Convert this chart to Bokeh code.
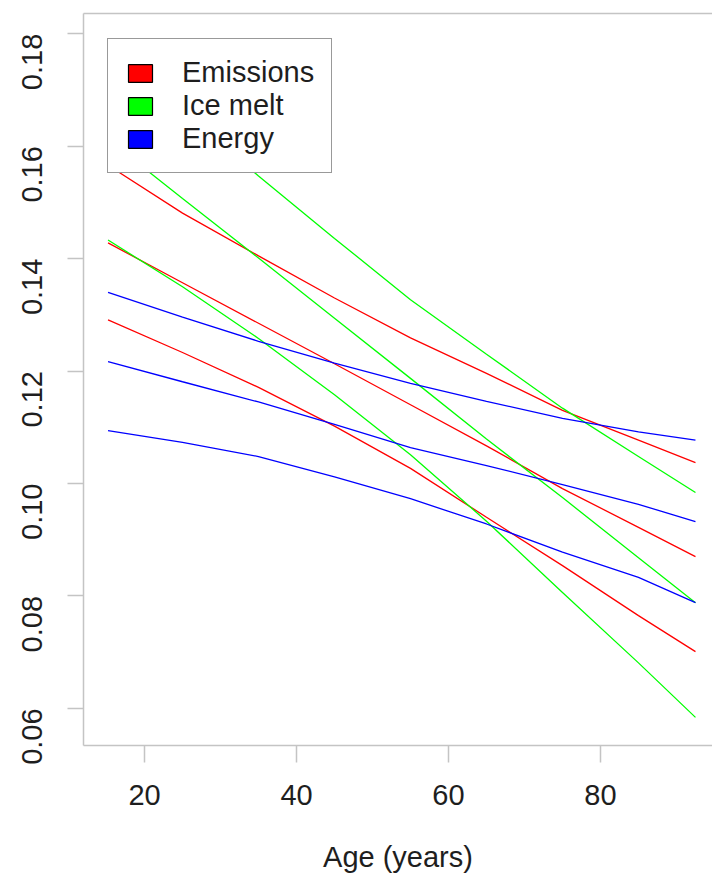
import math
from bokeh.plotting import figure
from bokeh.models import (Range1d, FixedTicker, PrintfTickFormatter, LinearAxis,
                          Legend, LegendItem, ColumnDataSource)
from bokeh.embed import file_html
from bokeh.resources import INLINE

# ---- data ----
ages = [15.2, 25, 35, 45, 55, 65, 75, 85, 92.5]

emissions_1 = [0.1566, 0.1481, 0.1405, 0.1330, 0.1259, 0.1196, 0.1130, 0.1077, 0.1037]
emissions_2 = [0.1428, 0.1357, 0.1285, 0.1213, 0.1140, 0.1067, 0.0991, 0.0922, 0.0870]
emissions_3 = [0.1291, 0.1233, 0.1171, 0.1102, 0.1027, 0.0940, 0.0854, 0.0765, 0.0701]

ice_melt_1 = [0.1782, 0.1665, 0.1547, 0.1436, 0.1327, 0.1230, 0.1134, 0.1048, 0.0984]
ice_melt_2 = [0.1612, 0.1507, 0.1401, 0.1294, 0.1187, 0.1079, 0.0975, 0.0868, 0.0788]
ice_melt_3 = [0.1433, 0.1350, 0.1258, 0.1158, 0.1051, 0.0933, 0.0806, 0.0681, 0.0584]

energy_1 = [0.1340, 0.1296, 0.1253, 0.1214, 0.1178, 0.1146, 0.1116, 0.1092, 0.1077]
energy_2 = [0.1217, 0.1181, 0.1145, 0.1105, 0.1064, 0.1032, 0.0998, 0.0963, 0.0932]
energy_3 = [0.1094, 0.1073, 0.1048, 0.1012, 0.0973, 0.0928, 0.0878, 0.0833, 0.0788]

series_names = ["Emissions", "Ice melt", "Energy"]
series_colors = ["#FF0000", "#00FF00", "#0000FF"]
series_lines = [
    [emissions_1, emissions_2, emissions_3],
    [ice_melt_1, ice_melt_2, ice_melt_3],
    [energy_1, energy_2, energy_3],
]

x_ticks = [20, 40, 60, 80]
y_ticks = [0.06, 0.08, 0.10, 0.12, 0.14, 0.16, 0.18]

FONT = "Liberation Sans"
AXIS_GREY = "#c4c4c4"
TEXT = "#1e1e1e"

p = figure(width=712, height=880, output_backend="svg", toolbar_location=None,
           x_range=Range1d(11.97, 94.74), y_range=Range1d(0.0534, 0.1836),
           min_border_left=83, min_border_right=0, min_border_top=13,
           min_border_bottom=135)
p.outline_line_color = None
p.xgrid.visible = False
p.ygrid.visible = False
p.background_fill_color = "white"
p.border_fill_color = "white"

for color, lines in zip(series_colors, series_lines):
    for ys in lines:
        p.line(ages, ys, line_color=color, line_width=1.3)

# axes
xa = p.xaxis[0]
xa.ticker = FixedTicker(ticks=x_ticks)
xa.axis_label = "Age (years)"
ya = p.yaxis[0]
ya.ticker = FixedTicker(ticks=y_ticks)
ya.formatter = PrintfTickFormatter(format="%.2f")
ya.major_label_orientation = math.pi / 2

for ax in (xa, ya):
    ax.axis_line_color = AXIS_GREY
    ax.axis_line_width = 1.5
    ax.major_tick_line_color = AXIS_GREY
    ax.major_tick_line_width = 1.5
    ax.major_tick_in = 0
    ax.minor_tick_line_color = None
    ax.major_label_text_font = FONT
    ax.major_label_text_font_size = "29px"
    ax.major_label_text_color = TEXT
    ax.axis_label_text_font = FONT
    ax.axis_label_text_font_size = "29px"
    ax.axis_label_text_font_style = "normal"
    ax.axis_label_text_color = TEXT

xa.major_tick_out = 17
xa.major_label_standoff = 22
xa.axis_label_standoff = 33
ya.major_tick_out = 16
ya.major_label_standoff = 35

# top border of the box
top = LinearAxis(ticker=FixedTicker(ticks=[]), axis_line_color=AXIS_GREY,
                 axis_line_width=1.5, major_tick_line_color=None,
                 minor_tick_line_color=None, major_label_text_font_size="0px")
p.add_layout(top, "above")

# legend with filled boxes: hidden zero-size quads that only serve the legend
items = []
for name, color, lines in zip(series_names, series_colors, series_lines):
    src = ColumnDataSource(dict(l=[ages[0]], r=[ages[0]], t=[lines[0][0]], b=[lines[0][0]]))
    r = p.quad(left="l", right="r", top="t", bottom="b", source=src,
               fill_color=color, line_color="black", line_width=1.2)
    r.visible = False
    items.append(LegendItem(label=name, renderers=[r]))

legend = Legend(items=items, location=(24, 572), margin=0,
                padding=17, spacing=0, glyph_width=30, glyph_height=22,
                label_standoff=27, label_text_font=FONT,
                label_text_font_size="29px", label_text_color=TEXT,
                border_line_color="#333333", border_line_width=1.5,
                background_fill_color="white", background_fill_alpha=1.0,
                click_policy="none", inactive_fill_alpha=0.0)
p.add_layout(legend, "center")

open("out.html", "w").write(file_html(p, INLINE))
